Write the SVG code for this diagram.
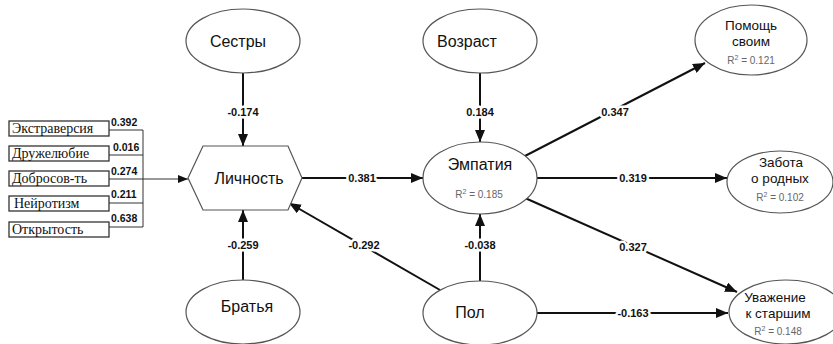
<svg xmlns="http://www.w3.org/2000/svg" width="833" height="344" viewBox="0 0 833 344">
<style>
.node{fill:#fff;stroke:#555;stroke-width:1.2}
.box{fill:#fff;stroke:#333;stroke-width:1.3}
.t{font-family:"Liberation Sans",Arial,sans-serif;font-size:16px;fill:#111;text-anchor:middle}
.ts{font-family:"Liberation Sans",Arial,sans-serif;font-size:13.5px;fill:#111;text-anchor:middle}
.r2{font-family:"Liberation Sans",Arial,sans-serif;font-size:10px;fill:#666;text-anchor:middle}
.bt{font-family:"Liberation Serif","Times New Roman",serif;font-size:14px;fill:#111}
.lab{font-family:"Liberation Sans",Arial,sans-serif;font-size:11px;font-weight:bold;fill:#111;text-anchor:middle;paint-order:stroke;stroke:#fff;stroke-width:5px;stroke-linejoin:round}
.ll{font-family:"Liberation Sans",Arial,sans-serif;font-size:10.5px;font-weight:bold;fill:#111}
.c{stroke:#111;stroke-width:2;fill:none}
.thin{stroke:#333;stroke-width:1;fill:none}
</style>
<defs>
<marker id="ah" viewBox="0 0 12 10" refX="12" refY="5" markerWidth="12" markerHeight="10" markerUnits="userSpaceOnUse" orient="auto">
<path d="M0,0 L12,5 L0,10 z" fill="#111"/>
</marker>
<marker id="ahs" viewBox="0 0 10 8" refX="10" refY="4" markerWidth="10" markerHeight="8" markerUnits="userSpaceOnUse" orient="auto">
<path d="M0,0 L10,4 L0,8 z" fill="#111"/>
</marker>
</defs>
<rect width="833" height="344" fill="#fff"/>

<g id="connectors">
<line class="thin" x1="109" y1="130" x2="143" y2="130"/>
<line class="thin" x1="109" y1="155" x2="143" y2="155"/>
<line class="thin" x1="109" y1="203" x2="143" y2="203"/>
<line class="thin" x1="109" y1="227" x2="143" y2="227"/>
<line class="thin" x1="143" y1="130" x2="143" y2="227"/>
<line class="thin" x1="109" y1="179" x2="188" y2="179" marker-end="url(#ahs)"/>
<line class="c" x1="243" y1="73" x2="243" y2="146" marker-end="url(#ah)"/>
<line class="c" x1="243" y1="281" x2="243" y2="210" marker-end="url(#ah)"/>
<line class="c" x1="480" y1="73" x2="480" y2="142" marker-end="url(#ah)"/>
<line class="c" x1="480" y1="281" x2="480" y2="214" marker-end="url(#ah)"/>
<line class="c" x1="302" y1="178" x2="423" y2="178" marker-end="url(#ah)"/>
<line class="c" x1="440" y1="290" x2="289" y2="203" marker-end="url(#ah)"/>
<line class="c" x1="523" y1="157" x2="705" y2="63" marker-end="url(#ah)"/>
<line class="c" x1="537" y1="178" x2="727" y2="178" marker-end="url(#ah)"/>
<line class="c" x1="525" y1="198" x2="737" y2="292" marker-end="url(#ah)"/>
<line class="c" x1="537" y1="313" x2="728" y2="313" marker-end="url(#ah)"/>
<text class="lab" x="243" y="116">-0.174</text>
<text class="lab" x="480" y="116">0.184</text>
<text class="lab" x="243" y="249">-0.259</text>
<text class="lab" x="480" y="249">-0.038</text>
<text class="lab" x="364" y="249">-0.292</text>
<text class="lab" x="362" y="182">0.381</text>
<text class="lab" x="615" y="116">0.347</text>
<text class="lab" x="633" y="182">0.319</text>
<text class="lab" x="633" y="251">0.327</text>
<text class="lab" x="633" y="317">-0.163</text>
<text class="ll" x="111" y="126">0.392</text>
<text class="ll" x="113" y="151">0.016</text>
<text class="ll" x="111" y="175">0.274</text>
<text class="ll" x="111" y="198">0.211</text>
<text class="ll" x="111" y="222">0.638</text>
</g>

<g id="box-extraversion"><rect class="box" x="9" y="121" width="100" height="15"/><text class="bt" x="12" y="133">Экстраверсия</text></g>
<g id="box-agreeableness"><rect class="box" x="9" y="146" width="100" height="15"/><text class="bt" x="12" y="158">Дружелюбие</text></g>
<g id="box-conscientiousness"><rect class="box" x="9" y="171" width="100" height="15"/><text class="bt" x="12" y="183">Добросов-ть</text></g>
<g id="box-neuroticism"><rect class="box" x="9" y="196" width="100" height="15"/><text class="bt" x="14" y="208">Нейротизм</text></g>
<g id="box-openness"><rect class="box" x="9" y="222" width="100" height="15"/><text class="bt" x="12" y="234">Открытость</text></g>

<g id="node-sisters"><ellipse class="node" cx="243" cy="41" rx="57" ry="32"/><text class="t" x="238" y="47">Сестры</text></g>
<g id="node-age"><ellipse class="node" cx="480" cy="41" rx="57" ry="32"/><text class="t" x="467" y="47">Возраст</text></g>
<g id="node-personality"><polygon class="node" points="188,178 203,146 288,146 302,178 288,210 203,210"/><text class="t" x="249" y="184">Личность</text></g>
<g id="node-empathy"><ellipse class="node" cx="480" cy="178" rx="57" ry="36"/><text class="t" x="480" y="170">Эмпатия</text><text class="r2" x="479" y="198">R<tspan dy="-4" font-size="7">2</tspan><tspan dy="4"> = 0.185</tspan></text></g>
<g id="node-brothers"><ellipse class="node" cx="243" cy="312" rx="57" ry="32"/><text class="t" x="247" y="312">Братья</text></g>
<g id="node-sex"><ellipse class="node" cx="480" cy="313" rx="57" ry="32"/><text class="t" x="470" y="318">Пол</text></g>
<g id="node-help"><ellipse class="node" cx="751" cy="40" rx="56" ry="35"/><text class="ts" x="751" y="30">Помощь</text><text class="ts" x="751" y="46">своим</text><text class="r2" x="751" y="64">R<tspan dy="-4" font-size="7">2</tspan><tspan dy="4"> = 0.121</tspan></text></g>
<g id="node-care"><ellipse class="node" cx="780" cy="182" rx="53" ry="31"/><text class="ts" x="781" y="167">Забота</text><text class="ts" x="780" y="183">о родных</text><text class="r2" x="780" y="201">R<tspan dy="-4" font-size="7">2</tspan><tspan dy="4"> = 0.102</tspan></text></g>
<g id="node-respect"><ellipse class="node" cx="786" cy="312" rx="57" ry="32"/><text class="ts" x="775" y="302">Уважение</text><text class="ts" x="778" y="318">к старшим</text><text class="r2" x="778" y="335">R<tspan dy="-4" font-size="7">2</tspan><tspan dy="4"> = 0.148</tspan></text></g>
</svg>
